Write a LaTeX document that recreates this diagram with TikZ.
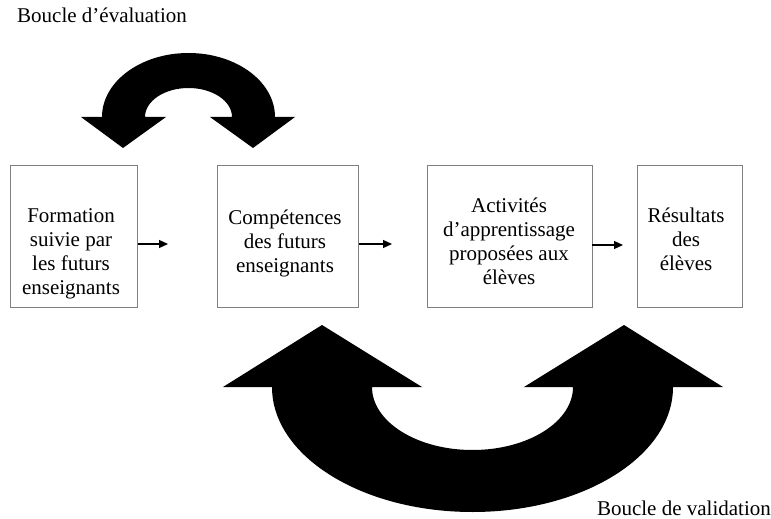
\documentclass[tikz,border=0pt]{standalone}
\usepackage{fontspec}
\setmainfont{Liberation Serif}
\usetikzlibrary{arrows.meta}
\begin{document}
\begin{tikzpicture}[x=1bp,y=-1bp,
  box/.style={draw=black!50, line width=0.9bp, inner sep=0pt},
  lbl/.style={inner sep=0pt, font=\fontsize{21bp}{24bp}\selectfont},
  flow/.style={line width=1.2bp, -{Triangle[length=9bp,width=8bp]}},
  loopshape/.style={fill=black, draw=none}]
\useasboundingbox (0,0) rectangle (771,519);
% boxes
\node[box, minimum width=127bp, minimum height=142.5bp] (b1) at (74,236.25) {};
\node[box, minimum width=141.5bp, minimum height=142.5bp] (b2) at (287.75,236.25) {};
\node[box, minimum width=164.5bp, minimum height=142.5bp] (b3) at (509.75,236.25) {};
\node[box, minimum width=104.5bp, minimum height=142.5bp] (b4) at (689.75,236.25) {};
% texts
\node[lbl, anchor=base] (t1) at (71,223) {\begin{tabular}[t]{@{}c@{}}Formation\\suivie par\\les futurs\\enseignants\end{tabular}};
\node[lbl, anchor=base] (t2) at (285,225) {\begin{tabular}[t]{@{}c@{}}Compétences\\des futurs\\enseignants\end{tabular}};
\node[lbl, anchor=base] (t3) at (509,213) {\begin{tabular}[t]{@{}c@{}}Activités\\d’apprentissage\\proposées aux\\élèves\end{tabular}};
\node[lbl, anchor=base] (t4) at (686,223) {\begin{tabular}[t]{@{}c@{}}Résultats\\des\\élèves\end{tabular}};
\node[lbl, anchor=base west] (l1) at (17,23) {Boucle d’évaluation};
\node[lbl, anchor=base east] (l2) at (771,515) {Boucle de validation};
% small arrows
\coordinate (e1) at (168,244);
\coordinate (e2) at (392,244);
\coordinate (e3) at (623,245);
\draw[flow] (b1.east |- e1) -- (e1);
\draw[flow] (b2.east |- e2) -- (e2);
\draw[flow] (b3.east |- e3) -- (e3);
% evaluation loop
\fill[loopshape] (102,117) arc[start angle=180, end angle=0, x radius=86.5bp, y radius=64bp]
  -- (295,117) -- (253,148) -- (210,117) -- (232,117)
  arc[start angle=0, end angle=180, x radius=43.5bp, y radius=29bp]
  -- (166,117) -- (123,148) -- (81,117) -- cycle;
% validation loop
\fill[loopshape] (272,387) arc[start angle=180, end angle=360, x radius=200.5bp, y radius=125bp]
  -- (723,387) -- (624,325) -- (524,387) -- (573,387)
  arc[start angle=360, end angle=180, x radius=100.5bp, y radius=63bp]
  -- (422,387) -- (322,325) -- (223,387) -- cycle;
\end{tikzpicture}
\end{document}
